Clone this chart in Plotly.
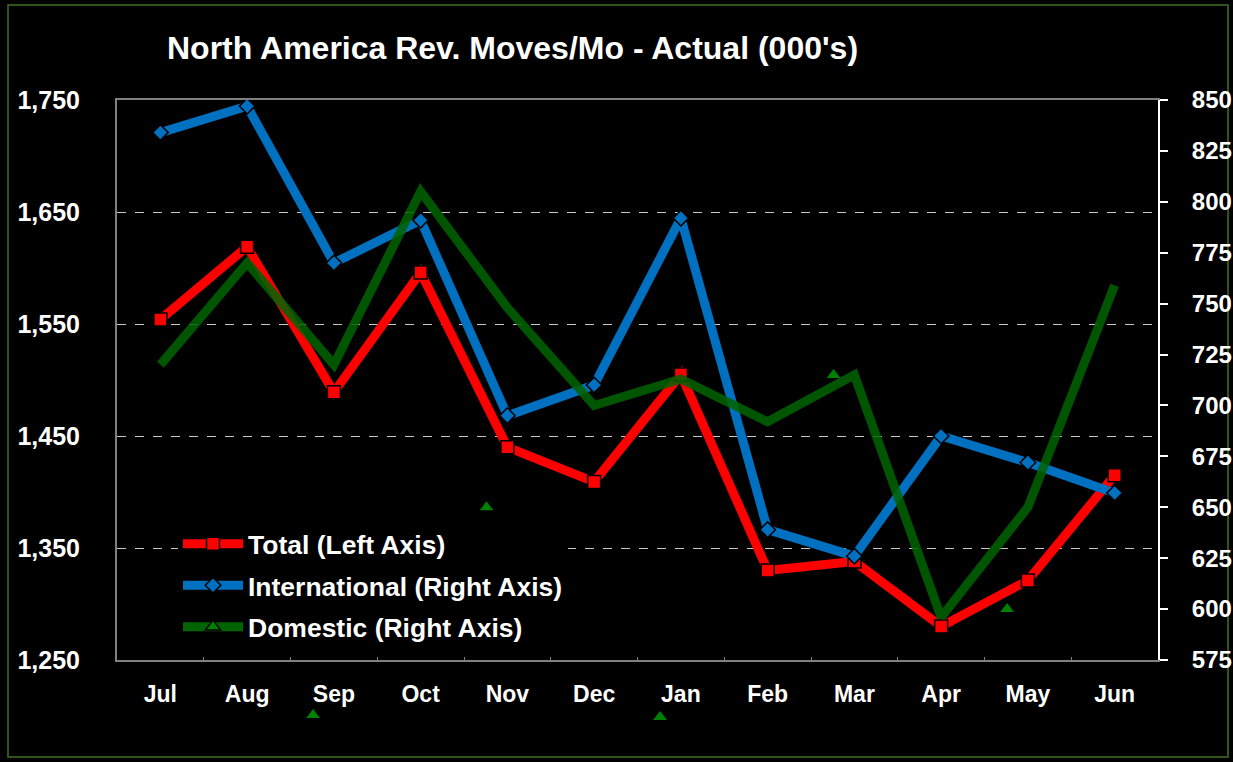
import plotly.graph_objects as go

months = ["Jul", "Aug", "Sep", "Oct", "Nov", "Dec", "Jan", "Feb", "Mar", "Apr", "May", "Jun"]
total = [1554, 1619, 1489, 1596, 1440, 1409, 1505, 1330, 1338, 1280, 1321, 1415]
international = [834, 847, 770, 791, 695, 710, 792, 639, 626, 685, 672, 657]
domestic = [720, 770, 720, 805, 748, 700, 713, 692, 715, 596, 650, 759]
# stray domestic triangle markers visible in the original picture
stray_months = ["Sep", "Nov", "Jan", "Mar", "May"]
stray_values = [548, 650, 547, 715, 600]

left_ticks = [1250, 1350, 1450, 1550, 1650, 1750]
right_ticks = [575, 600, 625, 650, 675, 700, 725, 750, 775, 800, 825, 850]

xi = list(range(len(months)))
stray_x = [months.index(m) - 0.24 for m in stray_months]

FONT = "Liberation Sans, Arial, sans-serif"
RED = "#ff0000"
BLUE = "#0070c0"
GREEN = "#006400"

# geometry (pixels)
W, H = 1233, 762
L, R, T, B = 117, 75, 100, 40
AREA_TOP, AREA_BOT = T, H - B          # 100 .. 722
AXIS_BOT = 660                           # bottom of the main axes
AREA_H = AREA_BOT - AREA_TOP
AREA_W = W - L - R
d0 = (AREA_BOT - AXIS_BOT) / AREA_H      # domain start of main y axes
r2 = [575, 850]
y3_low = r2[0] - (r2[1] - r2[0]) * d0 / (1 - d0)


def px_x(p):
    return (p - L) / AREA_W


def px_y(p):
    return (AREA_BOT - p) / AREA_H


fig = go.Figure()

fig.add_trace(go.Scatter(
    x=xi, y=total, name="Total (Left Axis)", mode="lines+markers",
    line=dict(color=RED, width=9),
    marker=dict(symbol="square", size=13, color=RED, line=dict(color="#000000", width=1.5)),
    legendgroup="a", yaxis="y",
))
fig.add_trace(go.Scatter(
    x=xi, y=international, name="International (Right Axis)", mode="lines+markers",
    line=dict(color=BLUE, width=9),
    marker=dict(symbol="diamond", size=12, color=BLUE, line=dict(color="#000000", width=1.5)),
    legendgroup="b", yaxis="y2",
))
fig.add_trace(go.Scatter(
    x=xi, y=domestic, name="Domestic (Right Axis)", mode="lines",
    line=dict(color=GREEN, width=9), opacity=0.85,
    showlegend=False, legendgroup="c", yaxis="y2",
))
fig.add_trace(go.Scatter(
    x=stray_x, y=stray_values, mode="markers", showlegend=False,
    marker=dict(symbol="triangle-up", size=12, color="#008000"),
    yaxis="y3", legendgroup="c",
))
fig.add_trace(go.Scatter(
    x=[None], y=[None], name="Domestic (Right Axis)", mode="lines+markers",
    line=dict(color=GREEN, width=9),
    marker=dict(symbol="triangle-up", size=13, color="#008000", line=dict(color="#000000", width=1.5)),
    legendgroup="c", yaxis="y2",
))

fig.update_layout(
    width=W, height=H,
    paper_bgcolor="#000000", plot_bgcolor="rgba(0,0,0,0)",
    margin=dict(l=L, r=R, t=T, b=B, autoexpand=False),
    font=dict(family=FONT, color="#ffffff"),
    title=dict(
        text="<b>North America Rev. Moves/Mo - Actual (000's)</b>",
        x=167 / W, xanchor="left", xref="container",
        y=1 - 48 / H, yanchor="middle", yref="container",
        font=dict(size=32, color="#ffffff", family=FONT),
    ),
    xaxis=dict(
        range=[-0.5, 11.5], tickvals=xi, ticktext=[f"<b>{m}</b>" for m in months],
        tickfont=dict(size=23, color="#ffffff"), ticks="",
        showgrid=False, zeroline=False, anchor="y",
        showline=True, linecolor="#808080", linewidth=2, mirror=True,
        minor=dict(tickvals=[i + 0.5 for i in xi[:-1]], ticks="inside", ticklen=3,
                   tickcolor="#808080", showgrid=False),
        ticklabelstandoff=12, automargin=False,
    ),
    yaxis=dict(
        range=[1250, 1750], tickvals=left_ticks, domain=[d0, 1],
        ticktext=[f"<b>{v:,}</b>" for v in left_ticks],
        tickfont=dict(size=25, color="#ffffff"), ticks="",
        showgrid=True, gridcolor="#c8c8c8", gridwidth=1, griddash="dash",
        zeroline=False, showline=True, linecolor="#808080", linewidth=2,
        ticklabelstandoff=30, automargin=False,
    ),
    yaxis2=dict(
        range=r2, tickvals=right_ticks, domain=[d0, 1],
        ticktext=[f"<b>{v}</b>" for v in right_ticks],
        tickfont=dict(size=24, color="#ffffff"),
        overlaying="y", side="right", anchor="x", showgrid=False, zeroline=False,
        showline=True, linecolor="#ffffff", linewidth=2,
        ticks="outside", ticklen=8, tickcolor="#ffffff", tickwidth=2,
        ticklabelstandoff=19, automargin=False,
    ),
    yaxis3=dict(
        range=[y3_low, r2[1]], domain=[0, 1], anchor="free", position=0,
        visible=False, showgrid=False, zeroline=False,
    ),
    legend=dict(
        x=px_x(178), y=px_y(520), xanchor="left", yanchor="top",
        bgcolor="#000000", borderwidth=0,
        font=dict(size=26.5, color="#ffffff", family=FONT),
        traceorder="grouped", tracegroupgap=4, itemwidth=60,
    ),
    shapes=[dict(
        type="rect", xref="paper", yref="paper",
        x0=px_x(8), x1=px_x(1228), y0=px_y(757), y1=px_y(5),
        line=dict(color="#3f6f22", width=1.5), fillcolor="rgba(0,0,0,0)", layer="below",
    )],
)

for tr in fig.data:
    if tr.name:
        tr.name = f"<b>{tr.name}</b>"

fig.write_html(
    "out.html",
    config={"displayModeBar": False},
    post_script="document.body.style.margin='0';document.body.style.overflow='hidden';",
)
